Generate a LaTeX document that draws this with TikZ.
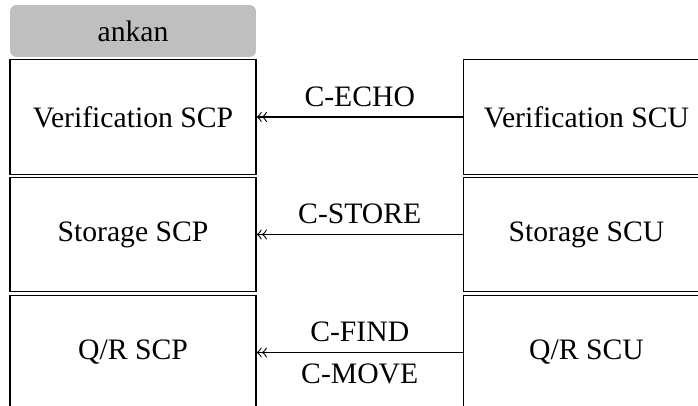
\documentclass[tikz,border=0pt]{standalone}
\usepackage{fontspec}
\setmainfont{Liberation Serif}
\usepackage{tikz}
\usetikzlibrary{arrows}

\begin{document}
\begin{tikzpicture}[minimum width=3.03cm, minimum height=1.41cm, inner sep=0pt, font=\fontsize{10.4}{12}\selectfont]
            \useasboundingbox (0,0) rectangle (8.6,5.002);
            \clip (0,0) rectangle (8.6,5.002);

            \node[fill=gray!50, rounded corners=0.08cm, minimum height=0.64cm] (tag) at (1.639, 4.62) {ankan};

            \node[draw] (vscp) at (1.639, 3.561) {Verification SCP};
            \node[draw] (sscp) at (1.639, 2.113) {Storage SCP};
            \node[draw] (qscp) at (1.639, 0.659) {Q/R SCP};

            \node[draw] (vscu) at (7.226, 3.561) {Verification SCU};
            \node[draw] (sscu) at (7.226, 2.113) {Storage SCU};
            \node[draw] (qscu) at (7.226, 0.659) {Q/R SCU};

            \draw[->>] (vscu) -- (vscp) node[midway, above=0.12cm, minimum size=0pt] {C-ECHO};
            \draw[->>] (sscu) -- (sscp) node[midway, above=0.12cm, minimum size=0pt] {C-STORE};
            \draw[->>] (qscu) -- (qscp) node[midway, above=0.12cm, minimum size=0pt] {C-FIND}
                                        node[midway, below=0.13cm, minimum size=0pt] {C-MOVE};
        \end{tikzpicture}
\end{document}
